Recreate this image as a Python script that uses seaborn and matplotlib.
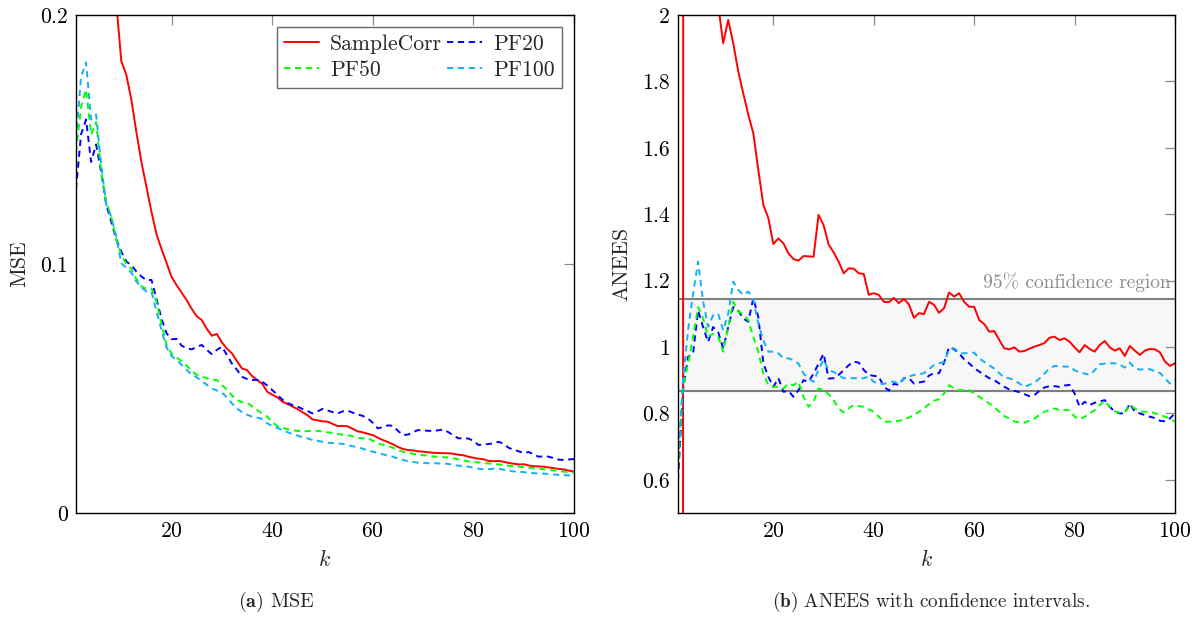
import numpy as np
import pandas as pd
import seaborn as sns
import matplotlib
matplotlib.use("Agg")
import matplotlib.pyplot as plt
from matplotlib.ticker import FuncFormatter

# ---------------- data ----------------
k = list(range(1, 101))

mse_samplecorr = [0.95, 0.70, 0.52, 0.42, 0.35, 0.30, 0.26, 0.23, 0.205, 0.1815,
                  0.176, 0.166, 0.153, 0.141, 0.131, 0.121, 0.112, 0.106, 0.1005, 0.0948,
                  0.0915, 0.0885, 0.0855, 0.082, 0.079, 0.0775, 0.074, 0.0712, 0.0719, 0.0685,
                  0.066, 0.0641, 0.061, 0.058, 0.0574, 0.055, 0.0534, 0.052, 0.0487, 0.0475,
                  0.0465, 0.0448, 0.0438, 0.0428, 0.0418, 0.0405, 0.0393, 0.0376, 0.0372, 0.0368,
                  0.0367, 0.0358, 0.0349, 0.035, 0.0348, 0.0338, 0.0328, 0.0324, 0.0318, 0.0313,
                  0.0302, 0.0293, 0.0285, 0.0276, 0.0265, 0.0257, 0.0253, 0.0251, 0.0248, 0.0246,
                  0.0244, 0.0242, 0.0241, 0.024, 0.024, 0.0238, 0.0234, 0.0232, 0.0226, 0.0222,
                  0.0218, 0.0216, 0.0209, 0.0208, 0.0209, 0.0206, 0.0201, 0.0198, 0.0195, 0.0196,
                  0.0191, 0.0188, 0.0187, 0.0186, 0.0183, 0.0180, 0.0177, 0.0175, 0.0170, 0.0167]

mse_pf20 = [0.130, 0.152, 0.158, 0.141, 0.148, 0.137, 0.124, 0.117, 0.110, 0.105,
            0.101, 0.0995, 0.097, 0.095, 0.0935, 0.0936, 0.086, 0.078, 0.0722, 0.0698,
            0.0699, 0.0672, 0.0662, 0.0657, 0.0667, 0.0675, 0.0655, 0.0638, 0.0655, 0.0668,
            0.0635, 0.060, 0.0575, 0.0547, 0.0538, 0.0534, 0.0535, 0.0528, 0.0512, 0.0494,
            0.0475, 0.0456, 0.0442, 0.0434, 0.0428, 0.0418, 0.0410, 0.0400, 0.0408, 0.0418,
            0.0412, 0.0405, 0.0400, 0.0408, 0.0411, 0.0403, 0.0396, 0.0390, 0.0380, 0.0362,
            0.0340, 0.0345, 0.0352, 0.0350, 0.0330, 0.0313, 0.0315, 0.0325, 0.0333, 0.0332,
            0.0330, 0.0330, 0.0332, 0.0335, 0.0325, 0.0312, 0.0300, 0.0300, 0.0299, 0.0290,
            0.0273, 0.0275, 0.0277, 0.0280, 0.0286, 0.0278, 0.0262, 0.0254, 0.0248, 0.0240,
            0.0245, 0.0235, 0.0226, 0.0228, 0.0226, 0.0220, 0.0214, 0.0213, 0.0215, 0.0217]

mse_pf50 = [0.145, 0.163, 0.170, 0.152, 0.157, 0.137, 0.125, 0.119, 0.110, 0.1036,
            0.100, 0.098, 0.094, 0.091, 0.090, 0.0902, 0.085, 0.076, 0.0675, 0.064,
            0.0625, 0.061, 0.0592, 0.057, 0.0555, 0.0548, 0.0541, 0.0536, 0.0534, 0.0515,
            0.0494, 0.0472, 0.0454, 0.0445, 0.0443, 0.0428, 0.0414, 0.0400, 0.0387, 0.0365,
            0.0350, 0.0342, 0.0337, 0.0333, 0.0330, 0.0327, 0.0329, 0.0330, 0.0330, 0.0327,
            0.0324, 0.0322, 0.0318, 0.0314, 0.0313, 0.0308, 0.0302, 0.0300, 0.0301, 0.0290,
            0.0279, 0.0274, 0.0269, 0.0262, 0.0252, 0.0246, 0.0242, 0.0238, 0.0235, 0.0232,
            0.0230, 0.0227, 0.0226, 0.0224, 0.0223, 0.0220, 0.0215, 0.0211, 0.0207, 0.0205,
            0.0203, 0.0201, 0.0199, 0.0197, 0.0195, 0.0193, 0.0190, 0.0188, 0.0186, 0.0184,
            0.0182, 0.0180, 0.0178, 0.0176, 0.0173, 0.0171, 0.0169, 0.0166, 0.0164, 0.0162]

mse_pf100 = [0.150, 0.175, 0.181, 0.158, 0.160, 0.140, 0.124, 0.119, 0.111, 0.1003,
             0.0985, 0.0965, 0.093, 0.0905, 0.0890, 0.0889, 0.081, 0.0735, 0.0665, 0.0630,
             0.0615, 0.0595, 0.0575, 0.0555, 0.0545, 0.0530, 0.0515, 0.0500, 0.0492, 0.0483,
             0.0465, 0.0440, 0.0420, 0.0405, 0.0395, 0.0387, 0.0383, 0.0378, 0.0360, 0.0350,
             0.0342, 0.0333, 0.0325, 0.0317, 0.0311, 0.0305, 0.0300, 0.0293, 0.0290, 0.0286,
             0.0282, 0.0281, 0.0279, 0.0278, 0.0273, 0.0268, 0.0264, 0.0258, 0.0252, 0.0246,
             0.0241, 0.0236, 0.0230, 0.0226, 0.0219, 0.0213, 0.0208, 0.0205, 0.0202, 0.0201,
             0.0200, 0.0200, 0.0199, 0.0199, 0.0197, 0.0193, 0.0190, 0.0189, 0.0186, 0.0182,
             0.0178, 0.0175, 0.0176, 0.0178, 0.0178, 0.0174, 0.0170, 0.0167, 0.0166, 0.0164,
             0.0162, 0.0160, 0.0159, 0.0158, 0.0157, 0.0155, 0.0153, 0.0152, 0.0151, 0.0149]

anees_samplecorr = [0.30, 0.35, 50.0, 20.0, 8.0, 4.0, 3.0, 2.5, 2.03, 1.915,
                    1.985, 1.915, 1.83, 1.764, 1.70, 1.644, 1.533, 1.428, 1.388, 1.31,
                    1.327, 1.312, 1.282, 1.265, 1.26, 1.274, 1.273, 1.272, 1.398, 1.367,
                    1.309, 1.285, 1.257, 1.222, 1.237, 1.236, 1.222, 1.22, 1.157, 1.162,
                    1.157, 1.136, 1.135, 1.148, 1.132, 1.145, 1.128, 1.088, 1.102, 1.099,
                    1.136, 1.127, 1.103, 1.117, 1.164, 1.152, 1.162, 1.136, 1.121, 1.121,
                    1.081, 1.069, 1.046, 1.048, 1.021, 0.996, 0.993, 0.999, 0.986, 0.988,
                    0.995, 1.001, 1.006, 1.012, 1.028, 1.031, 1.021, 1.026, 1.016, 0.999,
                    0.984, 1.006, 0.994, 0.986, 1.006, 1.018, 0.999, 0.989, 0.996, 0.973,
                    1.003, 0.989, 0.976, 0.989, 0.994, 0.993, 0.984, 0.956, 0.943, 0.951]

anees_pf20 = [0.60, 0.87, 0.97, 0.98, 1.11, 1.06, 1.015, 1.06, 1.045, 0.996,
              1.06, 1.12, 1.11, 1.086, 1.076, 1.147, 1.09, 0.951, 0.91, 0.88,
              0.906, 0.865, 0.868, 0.85, 0.87, 0.90, 0.895, 0.92, 0.95, 0.98,
              0.905, 0.906, 0.916, 0.93, 0.945, 0.956, 0.953, 0.931, 0.916, 0.913,
              0.911, 0.88, 0.869, 0.889, 0.886, 0.906, 0.906, 0.89, 0.893, 0.896,
              0.914, 0.921, 0.921, 0.953, 1.0, 0.993, 0.981, 0.963, 0.951, 0.936,
              0.926, 0.916, 0.906, 0.9, 0.89, 0.88, 0.872, 0.868, 0.864, 0.858,
              0.852, 0.855, 0.868, 0.878, 0.882, 0.882, 0.88, 0.884, 0.886, 0.86,
              0.82, 0.835, 0.825, 0.832, 0.836, 0.84, 0.82, 0.805, 0.80, 0.80,
              0.83, 0.805, 0.80, 0.795, 0.79, 0.786, 0.778, 0.776, 0.785, 0.80]

anees_pf50 = [0.63, 0.88, 0.95, 1.03, 1.12, 1.086, 1.031, 1.04, 1.031, 0.986,
              1.06, 1.136, 1.106, 1.10, 1.081, 1.031, 0.986, 0.92, 0.885, 0.88,
              0.88, 0.875, 0.89, 0.885, 0.895, 0.85, 0.82, 0.835, 0.875, 0.87,
              0.858, 0.84, 0.815, 0.803, 0.815, 0.825, 0.822, 0.82, 0.812, 0.805,
              0.79, 0.775, 0.775, 0.775, 0.778, 0.78, 0.788, 0.795, 0.805, 0.815,
              0.828, 0.838, 0.843, 0.86, 0.885, 0.875, 0.87, 0.87, 0.87, 0.86,
              0.85, 0.84, 0.83, 0.818, 0.805, 0.792, 0.785, 0.776, 0.772, 0.772,
              0.778, 0.785, 0.795, 0.805, 0.81, 0.815, 0.81, 0.81, 0.81, 0.79,
              0.782, 0.79, 0.80, 0.81, 0.825, 0.838, 0.82, 0.806, 0.802, 0.805,
              0.825, 0.815, 0.806, 0.805, 0.805, 0.80, 0.797, 0.79, 0.785, 0.775]

anees_pf100 = [0.66, 0.90, 1.05, 1.16, 1.257, 1.137, 1.061, 1.096, 1.10, 1.05,
               1.10, 1.197, 1.172, 1.157, 1.167, 1.142, 1.071, 1.02, 0.986, 0.986,
               0.981, 0.966, 0.966, 0.96, 0.95, 0.92, 0.905, 0.895, 0.932, 0.962,
               0.93, 0.925, 0.915, 0.906, 0.906, 0.906, 0.906, 0.906, 0.911, 0.895,
               0.89, 0.889, 0.893, 0.896, 0.889, 0.905, 0.911, 0.916, 0.918, 0.921,
               0.933, 0.946, 0.951, 0.955, 0.991, 0.996, 0.983, 0.981, 0.982, 0.983,
               0.966, 0.955, 0.945, 0.935, 0.921, 0.908, 0.906, 0.90, 0.89, 0.88,
               0.886, 0.893, 0.905, 0.92, 0.936, 0.943, 0.942, 0.941, 0.941, 0.93,
               0.923, 0.92, 0.916, 0.93, 0.948, 0.95, 0.951, 0.951, 0.947, 0.938,
               0.953, 0.936, 0.932, 0.933, 0.933, 0.927, 0.922, 0.905, 0.89, 0.90]

conf_low, conf_high = 0.867, 1.145

series_names = ["SampleCorr", "PF20", "PF50", "PF100"]
mse_tick_values = [0, 0.1, 0.2]
anees_tick_values = [0.6, 0.8, 1.0, 1.2, 1.4, 1.6, 1.8, 2.0]
k_tick_values = [20, 40, 60, 80, 100]

# ---------------- styling ----------------
sns.set_style("white")
plt.rcParams["font.family"] = ["cmr10", "DejaVu Serif"]
plt.rcParams["mathtext.fontset"] = "cm"
plt.rcParams["axes.unicode_minus"] = False
plt.rcParams["axes.formatter.use_mathtext"] = True

palette = {"SampleCorr": "#ff0000", "PF20": "#0000ff", "PF50": "#00ff00", "PF100": "#12b0f5"}
dash = (3.2, 2.4)
dashes = {"SampleCorr": "", "PF20": dash, "PF50": dash, "PF100": dash}

def long_frame(cols):
    frames = []
    for name, vals in zip(series_names, cols):
        frames.append(pd.DataFrame({"k": k, "value": vals, "method": name}))
    return pd.concat(frames, ignore_index=True)

df_mse = long_frame([mse_samplecorr, mse_pf20, mse_pf50, mse_pf100])
df_anees = long_frame([anees_samplecorr, anees_pf20, anees_pf50, anees_pf100])

fig = plt.figure(figsize=(12.03, 6.19), dpi=100)
W, H = 1203, 619
ax1 = fig.add_axes([76 / W, 1 - 513 / H, 498 / W, 498 / H])
ax2 = fig.add_axes([678 / W, 1 - 513 / H, 497 / W, 498 / H])

FS = 15.6
LW = 1.4

def style_axis(ax):
    for s in ax.spines.values():
        s.set_color("black")
        s.set_linewidth(1.0)
    ax.tick_params(direction="in", top=True, right=True, length=7, width=0.9,
                   color="#8c8c8c", labelsize=FS, labelcolor="black", pad=6)
    ax.set_xticks(k_tick_values)
    ax.set_xlim(1, 100)

# ---- left: MSE ----
sns.lineplot(data=df_mse, x="k", y="value", hue="method", style="method",
             palette=palette, dashes=dashes, hue_order=series_names,
             style_order=series_names, linewidth=LW, ax=ax1, legend=True)
ax1.set_ylim(0, 0.2)
ax1.set_yticks(mse_tick_values)
ax1.yaxis.set_major_formatter(FuncFormatter(lambda v, p: f"{v:g}"))
style_axis(ax1)
ax1.set_xlabel(r"$k$", fontsize=FS, labelpad=6)
ax1.set_ylabel("MSE", fontsize=FS, labelpad=8)
handles, labels = ax1.get_legend_handles_labels()
hmap = dict(zip(labels, handles))
leg_order = ["SampleCorr", "PF50", "PF20", "PF100"]  # column-major -> rows: SampleCorr|PF20, PF50|PF100
leg = ax1.legend([hmap[n] for n in leg_order], leg_order, ncol=2, loc="upper right",
                 fontsize=FS, frameon=True, fancybox=False, edgecolor="#444444",
                 handlelength=1.6, columnspacing=0.25, handletextpad=0.5,
                 borderpad=0.35, labelspacing=0.3, borderaxespad=0.55)
leg.get_frame().set_linewidth(1.0)

# ---- right: ANEES ----
ax2.axhspan(conf_low, conf_high, color="#f7f7f7", zorder=0)
ax2.axhline(conf_low, color="#7f7f7f", lw=1.5, zorder=1)
ax2.axhline(conf_high, color="#7f7f7f", lw=1.5, zorder=1)
sns.lineplot(data=df_anees, x="k", y="value", hue="method", style="method",
             palette=palette, dashes=dashes, hue_order=series_names,
             style_order=series_names, linewidth=LW, ax=ax2, legend=False)
ax2.set_ylim(0.5, 2.0)
ax2.set_yticks(anees_tick_values)
ax2.yaxis.set_major_formatter(FuncFormatter(lambda v, p: f"{v:g}"))
style_axis(ax2)
ax2.set_xlabel(r"$k$", fontsize=FS, labelpad=6)
ax2.set_ylabel("ANEES", fontsize=FS, labelpad=8)
ax2.text(99.2, conf_high + 0.022, "95% confidence region", color="#8c8c8c",
         fontsize=FS - 1.6, ha="right", va="bottom")

# ---- captions ----
fig.text(276 / W, 1 - 602 / H, r"$\mathbf{(a)}$ MSE", fontsize=14.5, ha="center", va="center")
fig.text(931 / W, 1 - 602 / H, r"$\mathbf{(b)}$ ANEES with confidence intervals.",
         fontsize=13.8, ha="center", va="center")

fig.savefig("out.png", dpi=100)
